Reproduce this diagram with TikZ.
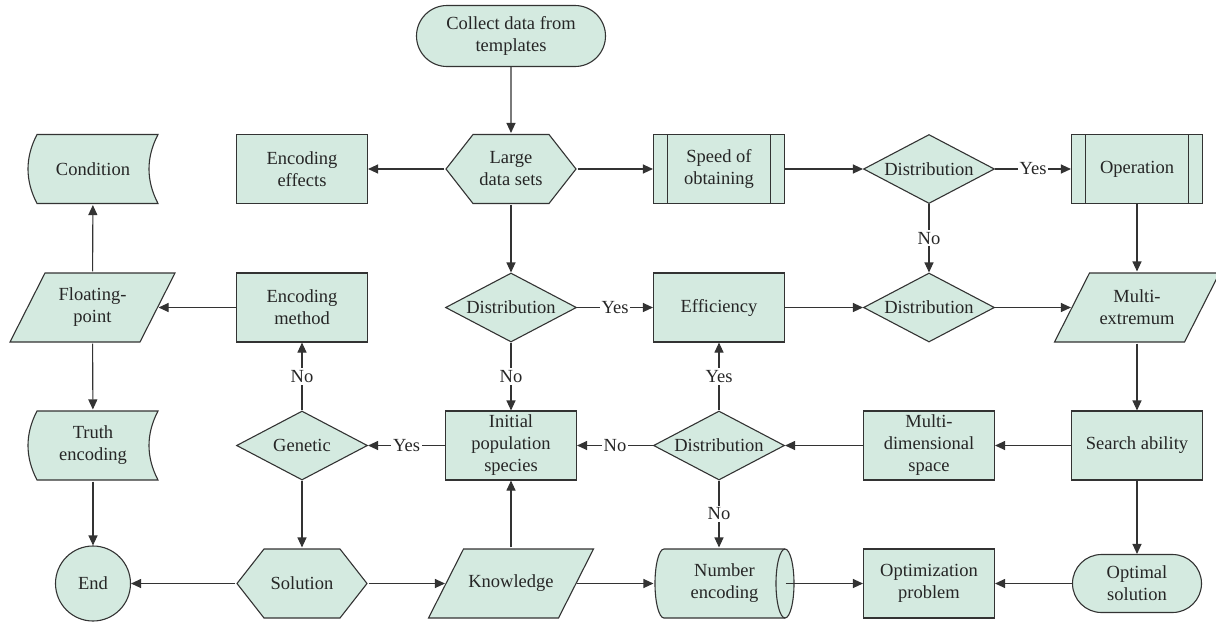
\documentclass[tikz,border=0pt]{standalone}
\usepackage{fontspec}
\setmainfont{Liberation Serif}
\usetikzlibrary{arrows.meta,shapes.geometric,shapes.misc}

\definecolor{boxfill}{HTML}{D4EAE0}
\definecolor{boxline}{HTML}{333333}

\tikzset{
  base/.style={draw=boxline, fill=boxfill, line width=1.1pt, align=center, inner sep=1pt,
    text=black!85, font=\fontsize{18.5}{22}\selectfont},
  proc/.style={base, rectangle, minimum width=131, minimum height=69},
  pproc/.style={proc, path picture={
      \draw[draw=boxline, line width=1.1pt] ([xshift=14pt]path picture bounding box.north west) -- ([xshift=14pt]path picture bounding box.south west);
      \draw[draw=boxline, line width=1.1pt] ([xshift=-14pt]path picture bounding box.north east) -- ([xshift=-14pt]path picture bounding box.south east);}},
  decision/.style={base, diamond, aspect=1.9, inner sep=0pt, minimum width=131, minimum height=69},
  term/.style={base, rounded rectangle, minimum width=131, minimum height=58},
  io/.style={base, draw=none, fill=none, minimum width=167, minimum height=71, path picture={
      \draw[draw=boxline, fill=boxfill, line width=1.1pt]
        ([xshift=1pt,yshift=1pt]path picture bounding box.south west)
        -- ([xshift=36pt,yshift=-1pt]path picture bounding box.north west)
        -- ([xshift=-1pt,yshift=-1pt]path picture bounding box.north east)
        -- ([xshift=-36pt,yshift=1pt]path picture bounding box.south east) -- cycle;}},
  hexa/.style={base, draw=none, fill=none, minimum width=132, minimum height=71, path picture={
      \draw[draw=boxline, fill=boxfill, line width=1.1pt]
        ([xshift=1pt]path picture bounding box.west)
        -- ([xshift=28pt,yshift=-1pt]path picture bounding box.north west)
        -- ([xshift=-28pt,yshift=-1pt]path picture bounding box.north east)
        -- ([xshift=-1pt]path picture bounding box.east)
        -- ([xshift=-28pt,yshift=1pt]path picture bounding box.south east)
        -- ([xshift=28pt,yshift=1pt]path picture bounding box.south west) -- cycle;}},
  sdata/.style={base, draw=none, fill=none, minimum width=132, minimum height=71, path picture={
      \draw[draw=boxline, fill=boxfill, line width=1.1pt]
        ([xshift=10pt,yshift=-1pt]path picture bounding box.north west)
        -- ([xshift=-1pt,yshift=-1pt]path picture bounding box.north east)
        .. controls ([xshift=-13pt,yshift=-24pt]path picture bounding box.north east)
        and ([xshift=-13pt,yshift=24pt]path picture bounding box.south east)
        .. ([xshift=-1pt,yshift=1pt]path picture bounding box.south east)
        -- ([xshift=10pt,yshift=1pt]path picture bounding box.south west)
        .. controls ([xshift=-2pt,yshift=24pt]path picture bounding box.south west)
        and ([xshift=-2pt,yshift=-24pt]path picture bounding box.north west)
        .. ([xshift=10pt,yshift=-1pt]path picture bounding box.north west) -- cycle;}},
  drum/.style={base, draw=none, fill=none, minimum width=141, minimum height=71, path picture={
      \draw[draw=boxline, fill=boxfill, line width=1.1pt]
        ([xshift=10pt,yshift=-1pt]path picture bounding box.north west)
        -- ([xshift=-10pt,yshift=-1pt]path picture bounding box.north east)
        arc[start angle=90, end angle=-90, x radius=9pt, y radius=34.5pt]
        -- ([xshift=10pt,yshift=1pt]path picture bounding box.south west)
        arc[start angle=270, end angle=90, x radius=9pt, y radius=34.5pt] -- cycle;
      \draw[draw=boxline, line width=1.1pt]
        ([xshift=-10pt,yshift=-1pt]path picture bounding box.north east)
        arc[start angle=90, end angle=270, x radius=9pt, y radius=34.5pt];}},
  stopc/.style={base, circle, minimum size=75},
  flow/.style={draw=boxline, line width=1.1pt, -{Triangle[length=10pt,width=9pt]}},
  lbl/.style={fill=white, inner sep=2pt, text=black!85, font=\fontsize{18.5}{22}\selectfont}
}

\begin{document}
\begin{tikzpicture}[x=1pt,y=-1pt]
\useasboundingbox (0,0) rectangle (1216,622);

% top row
\node[term, minimum width=191, minimum height=61] (collect) at (511,36) {Collect data from\\templates};
\node[sdata] (cond) at (93,169) {Condition};
\node[proc] (effects) at (302,169) {Encoding\\effects};
\node[hexa] (large) at (511,169) {Large\\data sets};
\node[pproc] (speed) at (719,169) {Speed of\\obtaining};
\node[decision] (dist1) at (929,169) {Distribution};
\node[pproc] (oper) at (1137,169) {Operation};

% second row
\node[io] (float) at (92.5,307.5) {Floating-\\point};
\node[proc] (method) at (302,307.5) {Encoding\\method};
\node[decision] (dist2) at (511,307.5) {Distribution};
\node[proc] (effic) at (719,307.5) {Efficiency};
\node[decision] (dist3) at (929,307.5) {Distribution};
\node[io] (extrem) at (1137,307.5) {Multi-\\extremum};

% third row
\node[sdata] (truth) at (93,445.5) {Truth\\encoding};
\node[decision] (genetic) at (302,445.5) {Genetic};
\node[proc] (init) at (511,445.5) {Initial\\population\\species};
\node[decision] (dist4) at (719,445.5) {Distribution};
\node[proc] (multi) at (929,445.5) {Multi-\\dimensional\\space};
\node[proc] (search) at (1137,445.5) {Search ability};

% bottom row
\node[stopc] (end) at (93,583.5) {End};
\node[hexa] (solution) at (302,583.5) {Solution};
\node[io] (know) at (511,583.5) {Knowledge};
\node[drum] (number) at (724.5,583.5) {Number\\encoding};
\node[proc] (optim) at (929,583.5) {Optimization\\problem};
\node[term] (optsol) at (1137,583.5) {Optimal\\solution};

% connectors
\draw[flow] (collect) -- (large);
\draw[flow] (large) -- (effects);
\draw[flow] (large) -- (speed);
\draw[flow] (large) -- (dist2);
\draw[flow] (speed) -- (dist1);
\draw[flow] (dist1) -- node[lbl] {Yes} (oper);
\draw[flow] (dist1) -- node[lbl] {No} (dist3);
\draw[flow] (oper) -- (extrem);
\draw[flow] (dist2) -- node[lbl] {Yes} (effic);
\draw[flow] (dist2) -- node[lbl] {No} (init);
\draw[flow] (effic) -- (dist3);
\draw[flow] (dist3) -- ([xshift=18pt]extrem.west);
\draw[flow] (extrem) -- (search);
\draw[flow] (search) -- (multi);
\draw[flow] (multi) -- (dist4);
\draw[flow] (dist4) -- node[lbl] {Yes} (effic);
\draw[flow] (dist4) -- node[lbl] {No} (init);
\draw[flow] (dist4) -- node[lbl] {No} (dist4 |- number.north);
\draw[flow] (init) -- node[lbl] {Yes} (genetic);
\draw[flow] (genetic) -- node[lbl] {No} (method);
\draw[flow] (genetic) -- (solution);
\draw[flow] (method) -- ([xshift=-18pt]float.east);
\draw[flow] (float) -- (cond);
\draw[flow] (float) -- (truth);
\draw[flow] (truth) -- (end);
\draw[flow] (solution) -- (end);
\draw[flow] (solution) -- ([xshift=18pt]know.west);
\draw[flow] (know) -- (init);
\draw[flow] ([xshift=-18pt]know.east) -- (number);
\draw[flow] ([xshift=-10pt]number.east) -- (optim);
\draw[flow] (search) -- (optsol);
\draw[flow] (optsol) -- (optim);
\end{tikzpicture}
\end{document}
